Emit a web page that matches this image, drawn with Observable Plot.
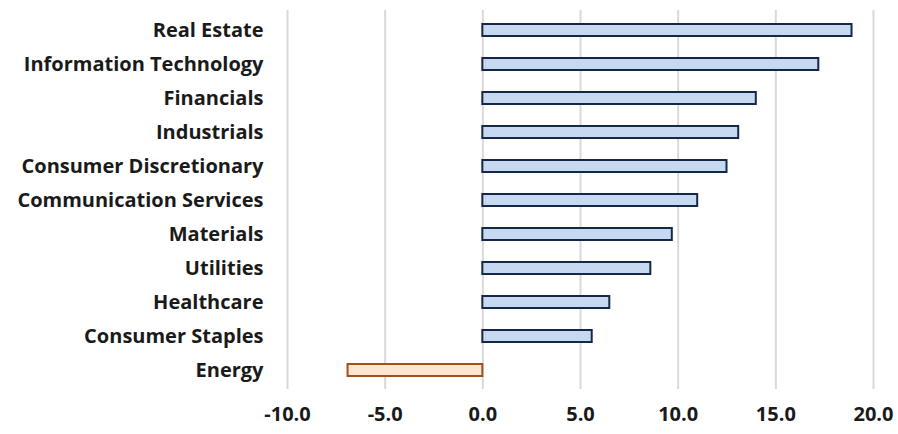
<!DOCTYPE html>
<html>
<head>
<meta charset="utf-8">
<script src="https://cdn.jsdelivr.net/npm/d3@7"></script>
<script src="https://cdn.jsdelivr.net/npm/@observablehq/plot@0.6"></script>
<style>
  html, body { margin: 0; padding: 0; background: #fff; }
  #chart svg { display: block; }
</style>
</head>
<body>
<div id="chart"></div>
<script>
const sectors = ["Real Estate", "Information Technology", "Financials", "Industrials", "Consumer Discretionary", "Communication Services", "Materials", "Utilities", "Healthcare", "Consumer Staples", "Energy"];
const values = [18.9, 17.2, 14.0, 13.1, 12.5, 11.0, 9.7, 8.6, 6.5, 5.6, -6.9];
const xTicks = [-10, -5, 0, 5, 10, 15, 20];

const data = sectors.map((s, i) => ({sector: s, value: values[i]}));

const chart = Plot.plot({
  width: 898,
  height: 434,
  marginLeft: 287,
  marginRight: 25,
  marginTop: 10,
  marginBottom: 45,
  style: {fontFamily: "'Open Sans', sans-serif", fontSize: "20px", fontWeight: 700, color: "#1a1a1a", background: "#fff"},
  x: {domain: [-10, 20], ticks: xTicks, tickFormat: d => d.toFixed(1), tickSize: 0, tickPadding: 17, label: null},
  y: {domain: sectors, paddingInner: 0.65, paddingOuter: 0.325, tickSize: 0, tickPadding: 24, label: null},
  marks: [
    Plot.ruleX(xTicks, {stroke: "#d9d9d9", strokeWidth: 2}),
    Plot.barX(data, {
      y: "sector",
      x: "value",
      fill: d => d.value < 0 ? "#fde6d3" : "#c6d9f0",
      stroke: d => d.value < 0 ? "#a2501a" : "#14284a",
      strokeWidth: 2
    })
  ]
});
document.getElementById("chart").appendChild(chart);
</script>
</body>
</html>
